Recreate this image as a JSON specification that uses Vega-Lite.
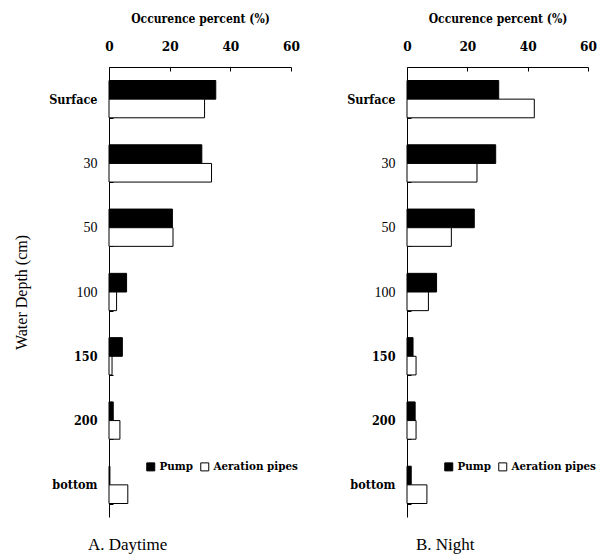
{
  "$schema": "https://vega.github.io/schema/vega-lite/v6.json",
  "padding": {"left": 13, "top": 12, "right": 5, "bottom": 5},
  "background": "white",
  "config": {
    "font": "Liberation Serif",
    "view": {"stroke": null},
    "axis": {"labelFont": "Liberation Serif", "titleFont": "Liberation Serif", "domainColor": "black", "tickColor": "black", "labelColor": "black", "titleColor": "black", "grid": false, "domainWidth": 1, "tickWidth": 1},
    "title": {"font": "Liberation Serif", "color": "black"},
    "legend": {"labelFont": "DejaVu Serif Condensed", "titleFont": "Liberation Serif", "labelColor": "black"}
  },
  "data": {"values": [
    {"panel": "A", "depth": "Surface", "series": "Pump", "value": 35.2},
    {"panel": "A", "depth": "Surface", "series": "Aeration pipes", "value": 31.5},
    {"panel": "A", "depth": "30", "series": "Pump", "value": 30.6},
    {"panel": "A", "depth": "30", "series": "Aeration pipes", "value": 33.8},
    {"panel": "A", "depth": "50", "series": "Pump", "value": 20.9},
    {"panel": "A", "depth": "50", "series": "Aeration pipes", "value": 21.1},
    {"panel": "A", "depth": "100", "series": "Pump", "value": 5.8},
    {"panel": "A", "depth": "100", "series": "Aeration pipes", "value": 2.5},
    {"panel": "A", "depth": "150", "series": "Pump", "value": 4.4},
    {"panel": "A", "depth": "150", "series": "Aeration pipes", "value": 1.0},
    {"panel": "A", "depth": "200", "series": "Pump", "value": 1.4},
    {"panel": "A", "depth": "200", "series": "Aeration pipes", "value": 3.6},
    {"panel": "A", "depth": "bottom", "series": "Pump", "value": 0.3},
    {"panel": "A", "depth": "bottom", "series": "Aeration pipes", "value": 6.2},
    {"panel": "B", "depth": "Surface", "series": "Pump", "value": 30.4},
    {"panel": "B", "depth": "Surface", "series": "Aeration pipes", "value": 42.2},
    {"panel": "B", "depth": "30", "series": "Pump", "value": 29.4},
    {"panel": "B", "depth": "30", "series": "Aeration pipes", "value": 23.2},
    {"panel": "B", "depth": "50", "series": "Pump", "value": 22.3},
    {"panel": "B", "depth": "50", "series": "Aeration pipes", "value": 14.7},
    {"panel": "B", "depth": "100", "series": "Pump", "value": 9.8},
    {"panel": "B", "depth": "100", "series": "Aeration pipes", "value": 7.1},
    {"panel": "B", "depth": "150", "series": "Pump", "value": 2.0},
    {"panel": "B", "depth": "150", "series": "Aeration pipes", "value": 3.0},
    {"panel": "B", "depth": "200", "series": "Pump", "value": 2.7},
    {"panel": "B", "depth": "200", "series": "Aeration pipes", "value": 3.0},
    {"panel": "B", "depth": "bottom", "series": "Pump", "value": 1.4},
    {"panel": "B", "depth": "bottom", "series": "Aeration pipes", "value": 6.6}
  ]},
  "spacing": 46,
  "resolve": {"legend": {"color": "independent"}},
  "hconcat": [
    {
      "width": 182,
      "height": 450,
      "transform": [{"filter": "datum.panel == 'A'"}],
      "title": {"text": "A. Daytime", "orient": "bottom", "anchor": "start", "frame": "group", "dx": -21, "offset": 20, "fontSize": 17, "fontWeight": "normal"},
      "mark": {"type": "bar", "stroke": "black", "strokeWidth": 1},
      "encoding": {
        "x": {"field": "value", "type": "quantitative", "scale": {"domain": [0, 60]},
          "axis": {"orient": "top", "values": [0, 20, 40, 60], "title": "Occurence percent (%)", "titleFont": "DejaVu Serif Condensed", "labelFont": "DejaVu Serif Condensed", "titleFontSize": 12, "titleFontWeight": "bold", "titlePadding": 14, "labelFontSize": 13.5, "labelFontWeight": "bold", "labelFlush": false, "tickSize": -4, "labelPadding": 18}},
        "y": {"field": "depth", "type": "nominal", "sort": ["Surface", "30", "50", "100", "150", "200", "bottom"],
          "scale": {"paddingInner": 0.42, "paddingOuter": 0.21},
          "axis": {"title": "Water Depth (cm)", "labelFont": {"condition": {"test": "datum.value === '30' || datum.value === '50' || datum.value === '100'", "value": "Liberation Serif"}, "value": "DejaVu Serif Condensed"}, "titleFontSize": 16, "titleFontWeight": "normal", "titlePadding": 19, "labelFontSize": {"condition": {"test": "datum.value === '30' || datum.value === '50' || datum.value === '100'", "value": 14}, "value": 12.5}, "labelFontWeight": {"condition": {"test": "datum.value === '30' || datum.value === '50' || datum.value === '100'", "value": "normal"}, "value": "bold"}, "tickBand": "extent", "tickSize": -4, "labelPadding": 16}},
        "yOffset": {"field": "series", "type": "nominal", "sort": ["Pump", "Aeration pipes"], "scale": {"paddingInner": 0, "paddingOuter": 0}},
        "color": {"field": "series", "type": "nominal", "sort": ["Pump", "Aeration pipes"],
          "scale": {"domain": ["Pump", "Aeration pipes"], "range": ["black", "white"]},
          "legend": {"orient": "none", "legendX": 36, "legendY": 394, "direction": "horizontal", "title": null, "labelFont": "DejaVu Serif Condensed", "symbolType": "square", "symbolSize": 64, "symbolStrokeColor": "black", "symbolStrokeWidth": 1, "labelFontSize": 11.5, "labelFontWeight": "bold", "columnPadding": 5, "labelOffset": 3, "padding": 0}}
      }
    },
    {
      "width": 181,
      "height": 450,
      "transform": [{"filter": "datum.panel == 'B'"}],
      "title": {"text": "B.  Night", "orient": "bottom", "anchor": "start", "frame": "group", "dx": 9, "offset": 20, "fontSize": 17, "fontWeight": "normal"},
      "mark": {"type": "bar", "stroke": "black", "strokeWidth": 1},
      "encoding": {
        "x": {"field": "value", "type": "quantitative", "scale": {"domain": [0, 60]},
          "axis": {"orient": "top", "values": [0, 20, 40, 60], "title": "Occurence percent (%)", "titleFont": "DejaVu Serif Condensed", "labelFont": "DejaVu Serif Condensed", "titleFontSize": 12, "titleFontWeight": "bold", "titlePadding": 14, "labelFontSize": 13.5, "labelFontWeight": "bold", "labelFlush": false, "tickSize": -4, "labelPadding": 18}},
        "y": {"field": "depth", "type": "nominal", "sort": ["Surface", "30", "50", "100", "150", "200", "bottom"],
          "scale": {"paddingInner": 0.42, "paddingOuter": 0.21},
          "axis": {"title": null, "labelFont": {"condition": {"test": "datum.value === '30' || datum.value === '50' || datum.value === '100'", "value": "Liberation Serif"}, "value": "DejaVu Serif Condensed"}, "labelFontSize": {"condition": {"test": "datum.value === '30' || datum.value === '50' || datum.value === '100'", "value": 14}, "value": 12.5}, "labelFontWeight": {"condition": {"test": "datum.value === '30' || datum.value === '50' || datum.value === '100'", "value": "normal"}, "value": "bold"}, "tickBand": "extent", "tickSize": -4, "labelPadding": 16}},
        "yOffset": {"field": "series", "type": "nominal", "sort": ["Pump", "Aeration pipes"], "scale": {"paddingInner": 0, "paddingOuter": 0}},
        "color": {"field": "series", "type": "nominal", "sort": ["Pump", "Aeration pipes"],
          "scale": {"domain": ["Pump", "Aeration pipes"], "range": ["black", "white"]},
          "legend": {"orient": "none", "legendX": 36, "legendY": 394, "direction": "horizontal", "title": null, "labelFont": "DejaVu Serif Condensed", "symbolType": "square", "symbolSize": 64, "symbolStrokeColor": "black", "symbolStrokeWidth": 1, "labelFontSize": 11.5, "labelFontWeight": "bold", "columnPadding": 5, "labelOffset": 3, "padding": 0}}
      }
    }
  ]
}
